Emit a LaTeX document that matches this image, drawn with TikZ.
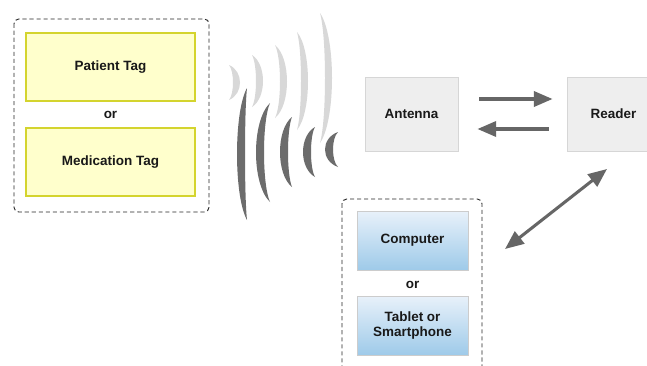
\documentclass[tikz,border=0pt]{standalone}
\usepackage{fontspec}
\setmainfont{Liberation Sans}
\usetikzlibrary{arrows.meta,calc}

\definecolor{tagfill}{HTML}{FFFFCC}
\definecolor{tagline}{HTML}{D4D42E}
\definecolor{unitfill}{HTML}{EEEEEE}
\definecolor{unitline}{HTML}{D6D6D6}
\definecolor{devtop}{HTML}{E8F1FA}
\definecolor{devbottom}{HTML}{9ECAE9}
\definecolor{devline}{HTML}{CCCCCC}
\definecolor{linkgray}{HTML}{666666}
\definecolor{wavelight}{HTML}{D8D8D8}
\definecolor{wavedark}{HTML}{6C6C6C}

\tikzset{
	lbl/.style={font=\fontsize{11.5}{13.5}\selectfont\bfseries, text=black!90},
	tagbox/.style={lbl, draw=tagline, fill=tagfill, line width=0.9pt, minimum width=5.07cm, minimum height=2.04cm},
	unitbox/.style={lbl, draw=unitline, fill=unitfill, line width=0.8pt, minimum width=2.79cm, minimum height=2.22cm},
	devbox/.style={lbl, draw=devline, top color=devtop, bottom color=devbottom, line width=0.8pt, minimum width=3.33cm, minimum height=1.77cm, align=center},
	grouping/.style={draw=black!85, dash pattern=on 3.5pt off 2.5pt, line width=0.8pt, rounded corners=4pt},
	link/.style={draw=linkgray, line width=2.6pt, -{Triangle[length=16pt,width=13pt]}},
}

\begin{document}
\begin{tikzpicture}[x=0.03cm,y=-0.03cm]
		\useasboundingbox (0,0) rectangle (647,365);
		\clip (0,0) rectangle (647,365);
		\fill[white] (0,0) rectangle (647,365);

		% tags
		\draw[grouping] (14,19) rectangle (209,212);
		\node[tagbox] (patient) at (110.5,67) {Patient Tag};
		\node[lbl] (tagor) at (110.5,115) {or};
		\node[tagbox] (medication) at (110.5,162) {Medication Tag};

		% radio waves
		\foreach \xl/\xr/\yt/\yb in {229/240/65/100, 252/263/55/107, 275/287/45/118, 297/308/32/130, 320/332/13/143}
			\fill[wavelight] (\xl,\yt)
				.. controls ({\xl+4/3*(\xr-\xl)},{\yt+0.18*(\yb-\yt)}) and ({\xl+4/3*(\xr-\xl)},{\yb-0.18*(\yb-\yt)}) .. (\xl,\yb)
				.. controls ({\xl+4/3*(\xr-\xl-7)},{\yb-0.18*(\yb-\yt)}) and ({\xl+4/3*(\xr-\xl-7)},{\yt+0.18*(\yb-\yt)}) .. cycle;
		\foreach \xl/\xr/\yt/\yb in {237/247/88/220, 256/270/103/202, 280/292/117/187, 303/315/127/177, 325/338/132/167}
			\fill[wavedark] (\xr,\yt)
				.. controls ({\xr-4/3*(\xr-\xl)},{\yt+0.18*(\yb-\yt)}) and ({\xr-4/3*(\xr-\xl)},{\yb-0.18*(\yb-\yt)}) .. (\xr,\yb)
				.. controls ({\xr-4/3*(\xr-\xl-8)},{\yb-0.18*(\yb-\yt)}) and ({\xr-4/3*(\xr-\xl-8)},{\yt+0.18*(\yb-\yt)}) .. cycle;

		% antenna and reader
		\node[unitbox] (antenna) at (411.5,114) {Antenna};
		\node[unitbox] (reader) at (613.5,114) {Reader};
		\draw[link, shorten <=0.63cm, shorten >=0.42cm] ([yshift=0.45cm]antenna.east) -- ([yshift=0.45cm]reader.west);
		\draw[link, shorten <=0.54cm, shorten >=0.57cm] ([yshift=-0.45cm]reader.west) -- ([yshift=-0.45cm]antenna.east);

		% devices
		\draw[grouping] (342,199) rectangle (482,380);
		\node[devbox] (computer) at (412.5,240.5) {Computer};
		\node[lbl] (devor) at (412.5,285) {or};
		\node[devbox] (tablet) at (412.5,325.5) {Tablet or\\Smartphone};

		\coordinate (devlink) at (505,249);
		\coordinate (readlink) at (607,169);
		\draw[link, {Triangle[length=16pt,width=13pt]}-{Triangle[length=16pt,width=13pt]}] (devlink) -- (readlink);
	\end{tikzpicture}
\end{document}
